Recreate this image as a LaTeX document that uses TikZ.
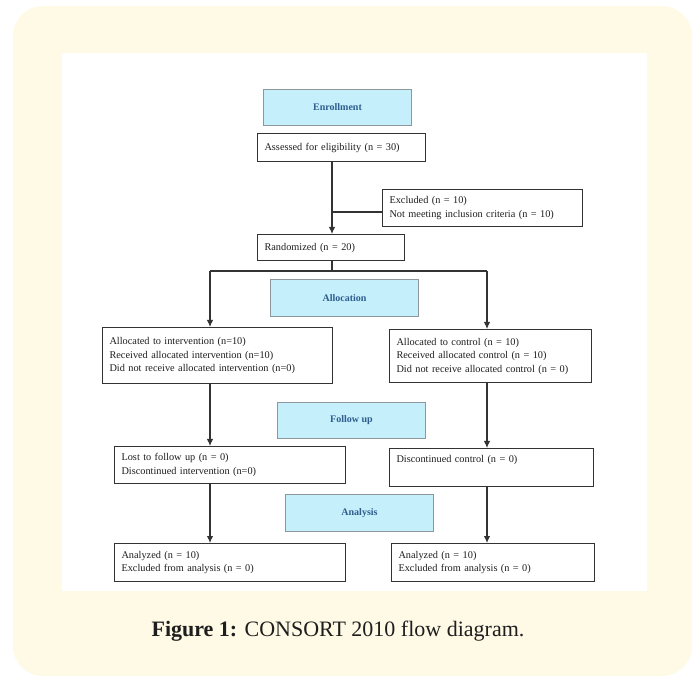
\documentclass[tikz,border=0pt]{standalone}
\usepackage{fontspec}
\setmainfont{Liberation Serif}
\usetikzlibrary{arrows.meta}
\definecolor{panel}{HTML}{FFFAE6}
\definecolor{hdrfill}{HTML}{C6EFFC}
\definecolor{hdrline}{HTML}{8E979C}
\definecolor{hdrtext}{HTML}{2E5D8E}
\definecolor{boxline}{HTML}{333333}
\definecolor{txt}{HTML}{1E1E1E}
\begin{document}
\begin{tikzpicture}[x=1pt,y=-1pt,
  hdr/.style={draw=hdrline, fill=hdrfill, line width=1pt, text=hdrtext,
    font=\fontsize{10}{12}\selectfont\bfseries, anchor=north west, inner sep=0pt},
  box/.style={draw=boxline, line width=1.1pt, fill=white, anchor=north west,
    align=left, inner xsep=7pt, inner ysep=0pt, text=txt,
    font=\fontsize{10.3}{13.5}\selectfont},
  arr/.style={draw=boxline, line width=1.1pt, -{Latex[length=7pt,width=6.5pt]}},
  ln/.style={draw=boxline, line width=1.1pt}]
\useasboundingbox (0,0) rectangle (694,676);
\fill[panel, rounded corners=30pt] (13,6) rectangle (692,676);
\fill[white] (62,53) rectangle (647,591);

% headers
\node[hdr, minimum width=148pt, minimum height=36pt] (enr) at (263,89) {Enrollment};
\node[hdr, minimum width=148pt, minimum height=37pt] (alloc) at (270,279) {Allocation};
\node[hdr, minimum width=148pt, minimum height=36pt] (fol) at (277,402) {Follow up};
\node[hdr, minimum width=148pt, minimum height=37pt] (ana) at (285,494) {Analysis};

% boxes
\node[box, text width=154pt, minimum height=28pt] (ass) at (257,133) {Assessed for eligibility (n = 30)};
\node[box, text width=186pt, minimum height=37pt] (excl) at (382,189) {Excluded (n = 10)\\Not meeting inclusion criteria (n = 10)};
\node[box, text width=133pt, minimum height=26pt] (rand) at (257,234) {Randomized (n = 20)};
\node[box, text width=216pt, minimum height=56pt] (intv) at (102,327) {Allocated to intervention (n=10)\\Received allocated intervention (n=10)\\Did not receive allocated intervention (n=0)};
\node[box, text width=188pt, minimum height=53pt] (ctrl) at (389,329) {Allocated to control (n = 10)\\Received allocated control (n = 10)\\Did not receive allocated control (n = 0)};
\node[box, text width=217pt, minimum height=37pt] (lost) at (114,446) {Lost to follow up (n = 0)\\Discontinued intervention (n=0)};
\node[box, text width=190pt, minimum height=38pt] (disc) at (389,448) {Discontinued control (n = 0)\\\strut};
\node[box, text width=217pt, minimum height=38pt] (anl) at (114,543) {Analyzed (n = 10)\\Excluded from analysis (n = 0)};
\node[box, text width=189pt, minimum height=38pt] (anr) at (391,543) {Analyzed (n = 10)\\Excluded from analysis (n = 0)};

% caption
\node[font=\fontsize{22}{26}\selectfont, text=txt] (cap) at (338,631) {\textbf{Figure 1:} CONSORT 2010 flow diagram.};

% connectors
\coordinate (vx) at (332,0);
\coordinate (exj) at (332,212);
\coordinate (lx) at (210,271);
\coordinate (rx) at (487,271);
\draw[arr] (vx |- ass.south) -- (vx |- rand.north);
\draw[ln] (exj) -- (exj -| excl.west);
\draw[ln] (vx |- rand.south) -- (vx |- lx);
\draw[ln] (lx) -- (rx);
\draw[arr] (lx) -- (lx |- intv.north);
\draw[arr] (rx) -- (rx |- ctrl.north);
\draw[arr] (lx |- intv.south) -- (lx |- lost.north);
\draw[arr] (lx |- lost.south) -- (lx |- anl.north);
\draw[arr] (rx |- ctrl.south) -- (rx |- disc.north);
\draw[arr] (rx |- disc.south) -- (rx |- anr.north);
\end{tikzpicture}
\end{document}
